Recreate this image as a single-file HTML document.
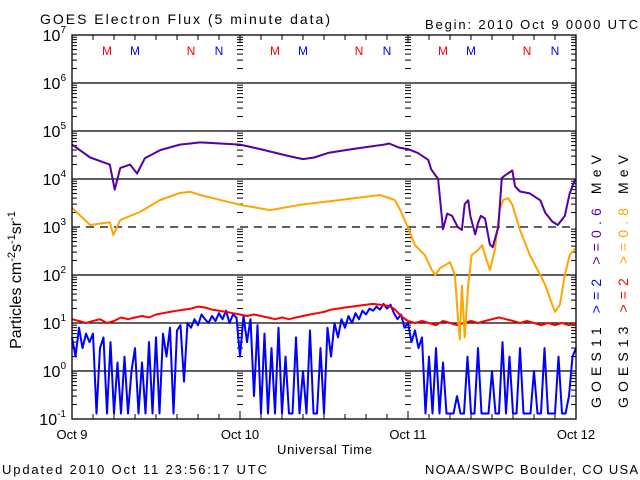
<!DOCTYPE html>
<html><head><meta charset="utf-8"><style>
html,body{margin:0;padding:0;background:#fff;width:640px;height:480px;overflow:hidden}
svg{display:block;font-family:"Liberation Sans",sans-serif}
</style></head><body>
<svg id="chart" width="640" height="480" viewBox="0 0 640 480" xmlns="http://www.w3.org/2000/svg">
<text x="40" y="24" font-size="14" textLength="290" lengthAdjust="spacing">GOES Electron Flux (5 minute data)</text>
<text x="425" y="29" font-size="13" textLength="213" lengthAdjust="spacing">Begin: 2010 Oct 9 0000 UTC</text>
<text x="2" y="474" font-size="13" textLength="265" lengthAdjust="spacing">Updated 2010 Oct 11 23:56:17 UTC</text>
<text x="425" y="474" font-size="13" textLength="213" lengthAdjust="spacing">NOAA/SWPC Boulder, CO USA</text>
<text x="277" y="454" font-size="13" textLength="95" lengthAdjust="spacing">Universal Time</text>
<text transform="translate(21,280) rotate(-90)" font-size="16" text-anchor="middle">Particles cm<tspan dy="-6" font-size="11">-2</tspan><tspan dy="6">s</tspan><tspan dy="-6" font-size="11">-1</tspan><tspan dy="6">sr</tspan><tspan dy="-6" font-size="11">-1</tspan></text>
<g id="layer"></g>
<g font-size="14">
<text transform="translate(601,408) rotate(-90)" textLength="253" lengthAdjust="spacing">GOES11  <tspan fill="#0000ff">&gt;=2</tspan>  <tspan fill="#5500aa">&gt;=0.6</tspan>  MeV</text>
<text transform="translate(628,408) rotate(-90)" textLength="253" lengthAdjust="spacing">GOES13  <tspan fill="#ff0000">&gt;=2</tspan>  <tspan fill="#ffa500">&gt;=0.8</tspan>  MeV</text>
</g>
</svg>
<script>
const dayLabels=["Oct 9","Oct 10","Oct 11","Oct 12"];
const decades=[-1,0,1,2,3,4,5,6,7];
const purpleHours=[0,2.6,5.4,6.1,6.9,8.3,9.3,10.4,12.6,15.4,16.9,18.3,24,26.9,31,33,34.6,36.6,40,44.6,45.3,46.7,48,49.4,50.9,51.3,52.3,53,53.6,54.3,55.1,55.7,56.1,56.6,56.9,57.6,58,58.4,59,59.7,60.1,60.9,61.4,61.9,62.9,63.3,64,65.4,66.9,67.6,68.6,69.4,70.4,71.1,71.9];
const purpleValues=[52000,28000,20000,6000,17000,20000,13000,27000,40000,52000,55000,58000,52000,42000,30000,26000,28000,35000,42000,52000,55000,45000,42000,35000,25000,16000,10000,900,1900,1700,1000,870,3000,3600,1700,700,1200,1700,1500,430,380,1000,10500,12000,15000,7000,5500,5000,3600,2000,1300,1100,1700,5000,10000];
const orangeHours=[0,2.6,5.4,5.9,6.9,9.7,12.6,15.4,16.9,18.3,24,28.3,32.6,38.3,44,46.1,46.9,48,49,50.4,51.4,51.9,52.6,53.3,54,54.7,55.1,55.4,55.7,56.1,56.6,57.1,58,58.6,59,59.7,60.4,61.1,61.6,62.3,62.9,64,65.4,66.9,67.6,68.6,69,69.7,70.4,71.1,71.9];
const orangeValues=[2500,1100,1260,680,1400,2050,3650,5100,5400,4650,2900,2250,2900,3650,4650,3650,2250,960,420,260,127,100,140,160,185,100,15,4.5,60,5,62,260,330,420,260,127,330,2250,3650,4000,2900,870,260,100,62,24,17,24,100,260,360];
const redValues=[12,11,10,11,12,10,11,13,12,13,14,13,15,16,17,18,19,20,22,21,19,18,17,16,15,14,15,14,13,12,13,12,13,14,15,16,17,19,20,21,22,23,24,25,24,23,20,14,11,10,11,10,9,11,10,9,10,11,10,11,12,13,12,11,10,11,10,9,10,9,10,9,10];
const blueValues=[5,2,8,3,6,4, 6,0.13,3,5,0.13,4, 0.13,1.5,0.13,2,0.13,1, 3,0.13,1.5,0.13,4,0.13, 5,0.13,6,2,8,0.13, 7,9,0.6,10,8,12, 9,15,12,10,14,11, 16,12,18,10,15,13, 2,14,4,12,0.3,9, 0.13,6,0.13,3,0.13,8, 0.13,2,0.13,0.13,5,0.13, 1,0.13,7,0.13,0.13,3, 0.13,8,2,10,5,12, 8,14,10,16,12,18, 15,20,18,22,19,25, 20,24,16,12,15,8, 10,4,7,3,5,0.13, 2,0.13,3,0.13,1.5,0.13, 0.13,0.13,0.3,0.13,0.13,2, 0.13,0.13,3,0.13,0.13,0.13, 1,0.13,0.13,4,0.13,2, 0.13,0.13,3,0.13,0.13,0.13, 1,0.13,0.13,3,0.13,0.13, 0.13,2,0.13,0.13,0.3,2,3];
const markerLetters=["M","M","N","N"];
const markerHours=[5,9,17,21];
const markerColors=["#ff0000","#0000ff","#ff0000","#0000ff"];

const X0=72,X1=576,Y7=35;
const xs=h=>X0+(h/72)*(X1-X0);
const ys=v=>{let y=Y7+(7-Math.log10(v))*48;return Math.min(419,Math.max(35,y));};
const NS="http://www.w3.org/2000/svg";
const layer=document.getElementById('layer');
function mk(tag,attrs,parent){const e=document.createElementNS(NS,tag);for(const k in attrs)e.setAttribute(k,attrs[k]);(parent||layer).appendChild(e);return e;}

decades.forEach(d=>{
  if(d===-1||d===7)return;
  const l=mk('line',{x1:X0,x2:X1,y1:ys(Math.pow(10,d)),y2:ys(Math.pow(10,d)),stroke:'#000','stroke-width':1.3});
  if(d===3)l.setAttribute('stroke-dasharray','8,6');
  
  
});
[X0,X1,xs(24),xs(48)].forEach((x,i)=>{
  for(let d=-1;d<7;d++){for(let m=2;m<10;m++){
    const y=ys(m*Math.pow(10,d));
    let t;
    if(i>=2)t=mk('line',{x1:x-3,x2:x+3,y1:y,y2:y,stroke:'#000','stroke-width':1});
    else t=mk('line',{x1:x,x2:x+(i===0?5:-5),y1:y,y2:y,stroke:'#000','stroke-width':1});
    
    
  }}
});
for(let h=0;h<=72;h+=3){
  const x=xs(h);const big=h%24===0;
  const t=mk('line',{x1:x,x2:x,y1:419,y2:big?411:414,stroke:'#000','stroke-width':1});
  
  
  const t2=mk('line',{x1:x,x2:x,y1:35,y2:big?43:40,stroke:'#000','stroke-width':1});
  
  
}
dayLabels.forEach((s,i)=>{
  const t=mk('text',{x:xs(i*24),y:439,'font-size':13,'text-anchor':'middle'});t.textContent=s;
  
  
});
decades.forEach(d=>{
  const t=mk('text',{x:66,y:ys(Math.pow(10,d))+6,'font-size':16,'text-anchor':'end'});
  
  
  t.innerHTML='10<tspan dy="-8" font-size="10">'+d+'</tspan>';
});
for(let day=0;day<3;day++)markerLetters.forEach((L,i)=>{
  const t=mk('text',{x:xs(day*24+markerHours[i]),y:55,'font-size':12,'text-anchor':'middle',fill:markerColors[i]});
  t.textContent=L;
  
  
});
function series(hours,vals,color,name,w){
  const pts=vals.map((v,i)=>xs(hours[i]).toFixed(1)+','+ys(v).toFixed(1)).join(' ');
  const p=mk('polyline',{points:pts,fill:'none',stroke:color,'stroke-width':w,'stroke-linejoin':'round'});
  
  
}
const redHours=redValues.map((_,i)=>i);
const blueHours=blueValues.map((_,i)=>i*0.5);
series(blueHours,blueValues,'#0000ff','goes11-2mev-line',2);
series(redHours,redValues,'#ff0000','goes13-2mev-line',2);
series(orangeHours,orangeValues,'#ffa500','goes13-0.8mev-line',2);
series(purpleHours,purpleValues,'#5500aa','goes11-0.6mev-line',2);
const frame=mk('rect',{x:X0,y:35,width:X1-X0,height:384,fill:'none',stroke:'#000','stroke-width':1.3});


</script>
</body></html>
